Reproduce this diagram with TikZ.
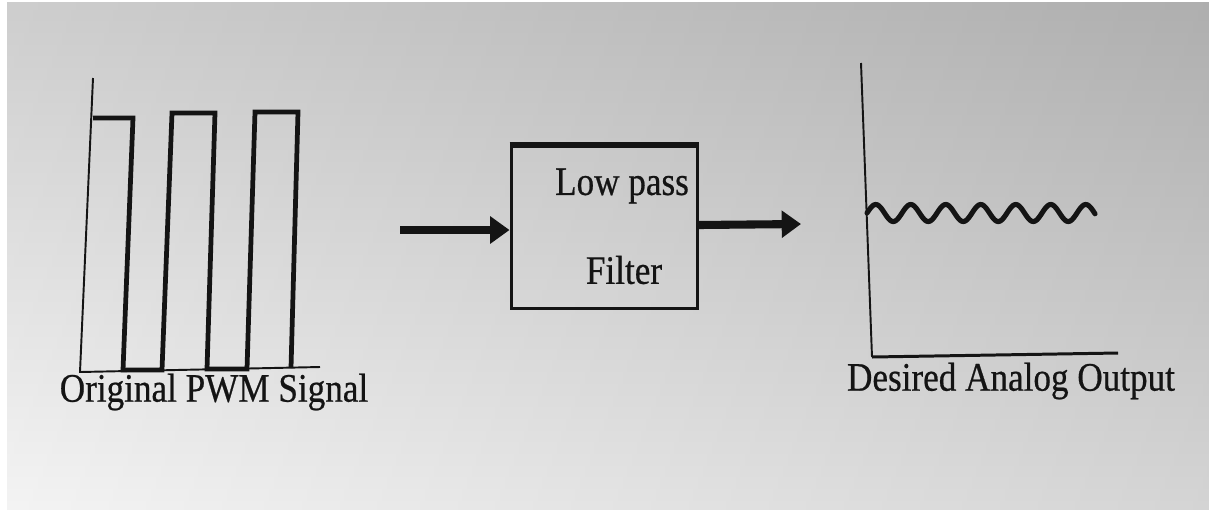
\documentclass[tikz,border=0pt]{standalone}
\usepackage{fontspec}
\setmainfont{Liberation Serif}[FakeBold=0.6]
\usetikzlibrary{arrows.meta}

\begin{document}
\begin{tikzpicture}[x=0.02cm, y=-0.02cm,
  ink/.style={draw=black!92},
  axisline/.style={ink, line width=1.1pt},
  pulse/.style={ink, line width=2.7pt, line join=miter},
  flow/.style={ink, line width=4.6pt, -{Triangle[length=11pt, width=15pt]}},
  blockbox/.style={ink, line width=1.7pt, rectangle, minimum width=186*0.02cm, minimum height=162*0.02cm, inner sep=0pt},
  caption/.style={inner sep=0pt, text=black!92, font=\fontsize{20}{24}\selectfont}
]
% page and screen background
\useasboundingbox (0,0) rectangle (1209,515);
\fill[white] (0,0) rectangle (1209,515);
\shade[top color=black!22, bottom color=black!5] (7,2) rectangle (1209,509);
\shade[left color=white, right color=black, opacity=0.12] (7,2) rectangle (1209,509);

% ---- input: PWM waveform ----
\coordinate (pwmtop) at (93,78);
\coordinate (pwmorigin) at (80,372);
\coordinate (pwmend) at (320,367);
\draw[axisline] (pwmtop) -- (pwmorigin) -- (pwmend);
\draw[pulse] (93,118) -- (133,118) -- (123,370) -- (162,370) -- (172,113)
  -- (215,113) -- (207,369) -- (247,369) -- (255,112) -- (298,112) -- (291,368);
\node[caption] (pwmlabel) at (214,392) {\scalebox{1}[1.15]{Original PWM Signal}};

% ---- filter block ----
\node[blockbox] (filter) at (604,227) {};
\draw[ink, line width=2.8pt] (filter.north west) -- (filter.north east);
\node[caption] (lowpass) at (622,186) {\scalebox{1}[1.15]{Low pass}};
\node[caption] (filtertext) at (624,270) {\scalebox{1}[1.15]{Filter}};

\coordinate (insrc) at (400,230);
\coordinate (outdst) at (801,224);
\draw[flow] (insrc) -- (filter.west |- insrc);
\draw[flow] (filter.east |- 0,225) -- (outdst);

% ---- output: filtered signal ----
\coordinate (outtop) at (861,63);
\coordinate (outorigin) at (872,357);
\coordinate (outend) at (1118,353);
\draw[axisline] (outtop) -- (outorigin);
\draw[ink, line width=1.7pt] (outorigin) -- (outend);
\draw[ink, line width=2.9pt, line cap=round]
  plot[domain=0:228, samples=240, smooth] ({867+\x},{213-8.5*sin(\x/35*360)});
\node[caption] (outlabel) at (1011,381) {\scalebox{1}[1.15]{Desired Analog Output}};
\end{tikzpicture}
\end{document}
